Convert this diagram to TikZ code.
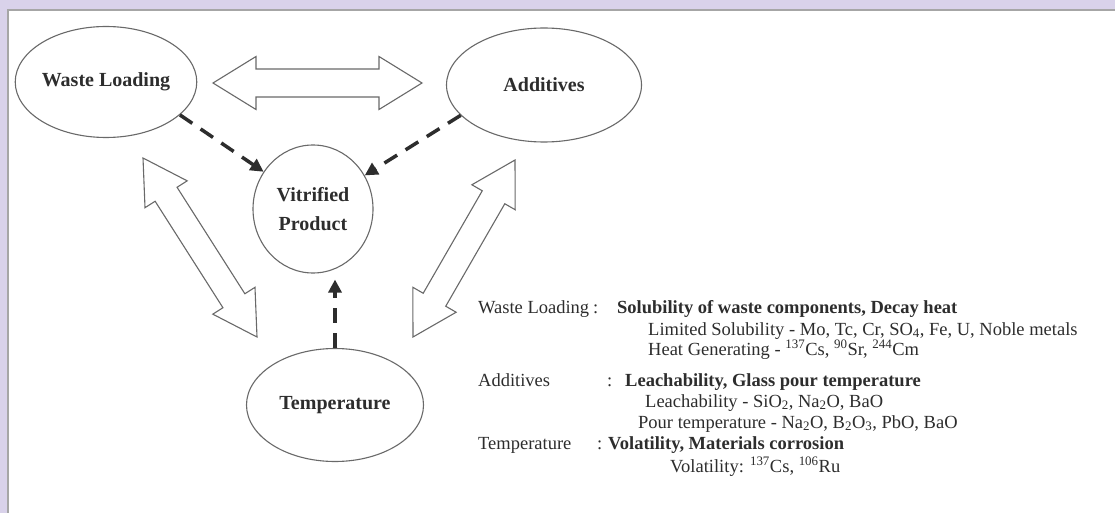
\documentclass[tikz,border=0pt]{standalone}
\usepackage{fontspec}
\setmainfont{Liberation Serif}
\usetikzlibrary{shapes.geometric,arrows.meta,calc}
\definecolor{lav}{RGB}{217,210,234}
\definecolor{edge}{RGB}{105,105,105}
\definecolor{ink}{RGB}{45,45,45}
\newcommand\hollowdbl[5]{%
  \draw[hollow] (#1) -- ($(#1)!#3!(#2)!#4!90:(#2)$) -- ($(#1)!#3!(#2)!#5!90:(#2)$)
    -- ($(#2)!#3!(#1)!#5!-90:(#1)$) -- ($(#2)!#3!(#1)!#4!-90:(#1)$) -- (#2)
    -- ($(#2)!#3!(#1)!#4!90:(#1)$) -- ($(#2)!#3!(#1)!#5!90:(#1)$)
    -- ($(#1)!#3!(#2)!#5!-90:(#2)$) -- ($(#1)!#3!(#2)!#4!-90:(#2)$) -- cycle;}
\begin{document}
\begin{tikzpicture}[x=1pt,y=-1pt,
  blob/.style={ellipse,draw=edge,line width=1.1pt,inner sep=0pt,text=ink,
    font=\fontsize{20}{29}\selectfont\bfseries,align=center},
  hollow/.style={draw=edge,line width=1.1pt,fill=white,line join=miter},
  dasharr/.style={draw=ink,line width=3.5pt,dash pattern=on 15pt off 10pt,
    -{Triangle[length=13pt,width=13pt]}},
  legend/.style={anchor=base west,inner sep=0pt,text=ink,font=\fontsize{18.5}{21}\selectfont},
  legendb/.style={legend,font=\fontsize{18.5}{21}\selectfont\bfseries}]
\useasboundingbox (0,0) rectangle (1115,513);
\fill[lav] (0,0) rectangle (1115,513);
\fill[white] (8,10) rectangle (1115,513);
\draw[gray!70,line width=1.2pt] (8,513) -- (8,10) -- (1115,10);

\node[blob,minimum width=163pt,minimum height=111pt] (wl) at (106,82) {Waste Loading};
\node[blob,minimum width=195pt,minimum height=114pt] (ad) at (544,85) {Additives};
\node[blob,minimum width=120pt,minimum height=128pt] (vp) at (313,209) {Vitrified\\Product};
\node[blob,minimum width=177pt,minimum height=113pt] (tp) at (335,405) {Temperature};

\coordinate (hL) at (213,83);
\coordinate (hR) at (422,83);
\coordinate (lT) at (143,158);
\coordinate (lB) at (257,337);
\coordinate (rT) at (515,160);
\coordinate (rB) at (413,337);
\hollowdbl{hL}{hR}{43pt}{26.5pt}{14pt}
\hollowdbl{lT}{lB}{43pt}{25pt}{13pt}
\hollowdbl{rT}{rB}{43pt}{25pt}{13pt}

\draw[dasharr] (wl.-24) -- (vp.143);
\draw[dasharr] (ad.200) -- (vp.33);
\draw[dasharr] (tp.north) -- ($(tp.north |- vp.south)+(0,6)$);

\node[legend] (k1) at (478,313) {Waste Loading};
\node[legend] (c1) at (593,313) {:};
\node[legendb] (b1) at (617,313) {Solubility of waste components, Decay heat};
\node[legend] (s1) at (648,335) {Limited Solubility - Mo, Tc, Cr, SO\textsubscript{4}, Fe, U, Noble metals};
\node[legend] (s2) at (648,355) {Heat Generating - \textsuperscript{137}Cs, \textsuperscript{90}Sr, \textsuperscript{244}Cm};
\node[legend] (k2) at (478,386) {Additives};
\node[legend] (c2) at (607,386) {:};
\node[legendb] (b2) at (625,386) {Leachability, Glass pour temperature};
\node[legend] (s3) at (645,407) {Leachability - SiO\textsubscript{2}, Na\textsubscript{2}O, BaO};
\node[legend] (s4) at (638,428) {Pour temperature - Na\textsubscript{2}O, B\textsubscript{2}O\textsubscript{3}, PbO, BaO};
\node[legend] (k3) at (478,449) {Temperature};
\node[legend] (c3) at (597,449) {:};
\node[legendb] (b3) at (608,449) {Volatility, Materials corrosion};
\node[legend] (s5) at (670,472) {Volatility: \textsuperscript{137}Cs, \textsuperscript{106}Ru};
\end{tikzpicture}
\end{document}
